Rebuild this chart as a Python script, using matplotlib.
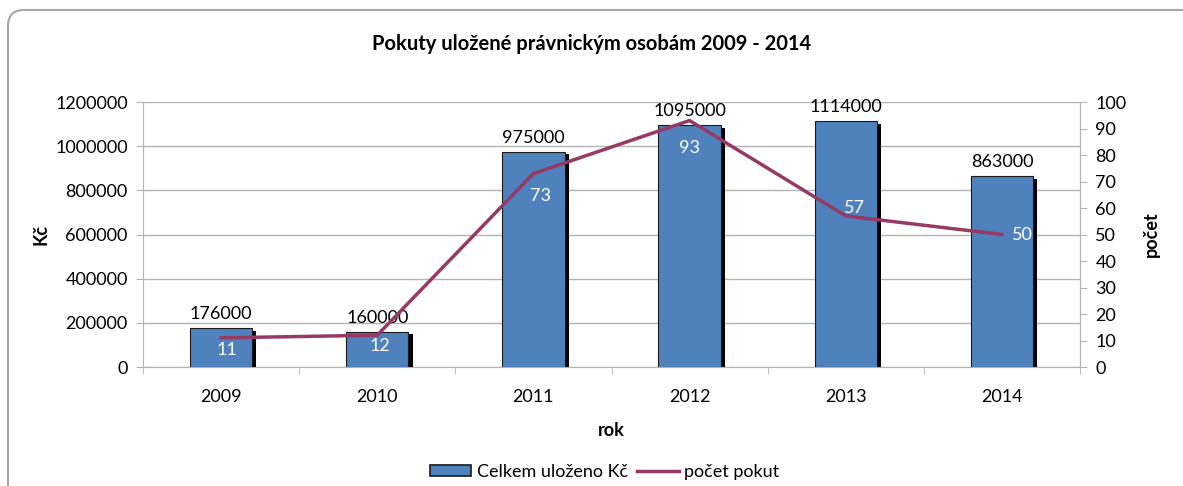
import numpy as np
import matplotlib
matplotlib.use("Agg")
import matplotlib.pyplot as plt
import matplotlib.patheffects as pe
import matplotlib.transforms as mtrans
from matplotlib.patches import FancyBboxPatch, Rectangle

plt.rcParams['font.family'] = ['Lato', 'DejaVu Sans']

# data
years = ['2009', '2010', '2011', '2012', '2013', '2014']
castka = [176000, 160000, 975000, 1095000, 1114000, 863000]
pocet = [11, 12, 73, 93, 57, 50]

# label offsets for line values (points), style only
lab_off = [(4, -9), (2, -8), (5, -16), (0, -20), (6, 6), (15, 0)]

bar_col = '#4F81BD'
line_col = '#953A64'
grid_col = '#B3B3B3'
fs = 13

fig = plt.figure(figsize=(11.83, 4.86), dpi=100)
# rounded chart border, in inches, partly cut off at right and bottom
border = FancyBboxPatch((0.08, -0.5), 12.5, 4.76 + 0.5,
                        boxstyle="round,pad=0,rounding_size=0.16",
                        transform=fig.dpi_scale_trans, fc='none', ec='#A6A6A6', lw=1.5,
                        zorder=-1)
fig.patches.append(border)

ax = fig.add_axes([143 / 1183, 119 / 486, (1080 - 143) / 1183, (367 - 102) / 486])
ax.set_facecolor('none')
x = np.arange(len(years))

bars = ax.bar(x, castka, width=0.4, color=bar_col, edgecolor='#1a1a1a', linewidth=0.8,
              zorder=2)
for b in bars:
    b.set_path_effects([pe.SimplePatchShadow(offset=(3, -2), shadow_rgbFace='black', alpha=1),
                        pe.Normal()])
lift = mtrans.ScaledTranslation(0, 0.06, fig.dpi_scale_trans)
for xi, v in zip(x, castka):
    ax.text(xi, v, str(v), ha='center', va='bottom', fontsize=fs, color='black',
            transform=ax.transData + lift)

ax.set_xlim(-0.5, len(years) - 0.5)
ax.set_ylim(0, 1200000)
ax.set_yticks(np.arange(0, 1200001, 200000))
ax.set_yticklabels([str(v) for v in range(0, 1200001, 200000)], fontsize=fs)
ax.yaxis.grid(True, color=grid_col, lw=1, zorder=0)
ax.set_axisbelow(True)
ax.set_xticks(x)
ax.set_xticklabels(years, fontsize=fs)
ax.set_xticks(np.arange(-0.5, len(years)), minor=True)
ax.tick_params(axis='x', which='major', length=0, pad=16)
ax.tick_params(axis='x', which='minor', length=5, color=grid_col, direction='out')
ax.tick_params(axis='y', length=5, color=grid_col, direction='out', pad=6)
ax.spines['top'].set_visible(False)
for s in ['left', 'bottom', 'right']:
    ax.spines[s].set_color(grid_col)

ax.set_ylabel('Kč', fontsize=fs, fontweight='bold', labelpad=4)
ax.set_xlabel('rok', fontsize=fs, fontweight='bold', labelpad=12)

ax2 = ax.twinx()
ax2.set_ylim(0, 100)
ax2.set_yticks(np.arange(0, 101, 10))
ax2.set_yticklabels([str(v) for v in range(0, 101, 10)], fontsize=fs)
ax2.tick_params(axis='y', length=5, color=grid_col, direction='out', pad=6)
for s in ['top', 'left', 'bottom']:
    ax2.spines[s].set_visible(False)
ax2.spines['right'].set_color(grid_col)
line, = ax2.plot(x, pocet, color=line_col, lw=2.5, zorder=3)
for xi, v, off in zip(x, pocet, lab_off):
    ax2.annotate(str(v), (xi, v), xytext=off, textcoords='offset points',
                 ha='center', va='center', fontsize=fs, color='white', zorder=4)
ax2.set_ylabel('počet', fontsize=fs, fontweight='bold', labelpad=12)

fig.text(0.5, 1 - 44 / 486, 'Pokuty uložené právnickým osobám 2009 - 2014',
         ha='center', va='center', fontsize=14.5, fontweight='bold')

bar_handle = Rectangle((0, 0), 1, 1, fc=bar_col, ec='#1a1a1a', lw=1.2)
leg = fig.legend([bar_handle, line], ['Celkem uloženo Kč', 'počet pokut'],
                 loc='center', bbox_to_anchor=(0.511, 1 - 472 / 486), ncol=2,
                 frameon=False, fontsize=fs, handlelength=2.3, handleheight=0.5,
                 handletextpad=0.3, columnspacing=0.5)

fig.savefig('out.png', dpi=100)
